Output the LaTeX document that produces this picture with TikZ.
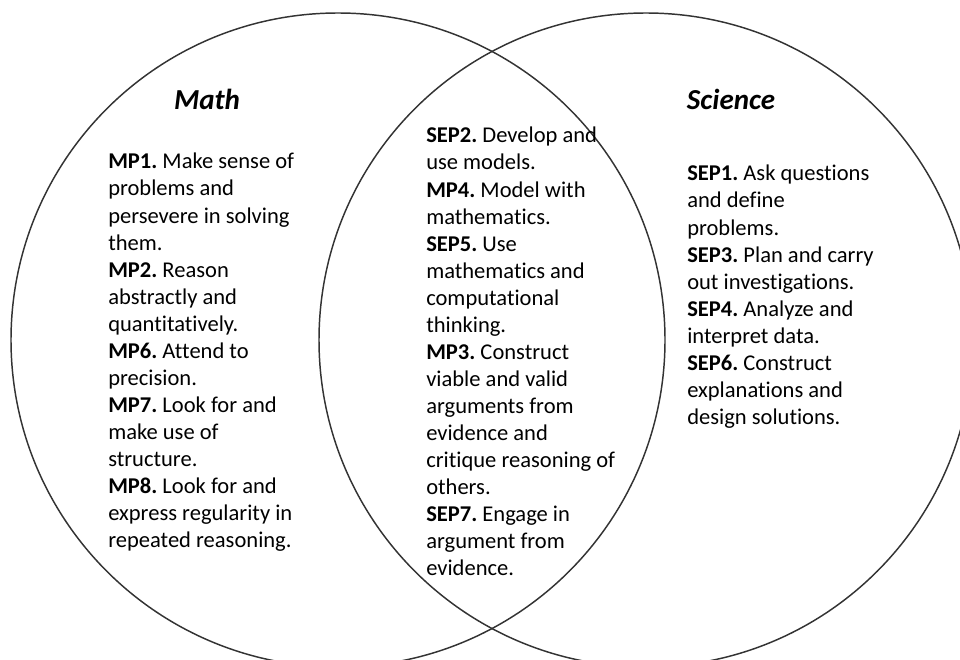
\documentclass[tikz,border=0pt]{standalone}
\usepackage{fontspec}
\setmainfont[Ligatures=NoCommon]{Carlito}
\usetikzlibrary{positioning}
\frenchspacing

\begin{document}
\begin{tikzpicture}[x=0.75pt, y=-0.75pt,
    setcircle/.style={circle, draw=black!80, line width=1.1pt, minimum size=490.5pt, inner sep=0pt},
    settitle/.style={font=\fontsize{21.75pt}{26pt}\selectfont\bfseries\itshape},
    itemlist/.style={anchor=north west, inner sep=0pt, align=left, font=\fontsize{16.9pt}{20.3pt}\selectfont}
]
\useasboundingbox (0,0) rectangle (960,660);
\clip (0,0) rectangle (960,660);

% the two sets
\node[setcircle] (mathset) at (338,340) {};
\node[setcircle] (sciset) at (646,340) {};

% titles
\node[settitle] (mathtitle) at (207,99) {Math};
\node[settitle] (scititle) at (731,99) {Science};

% practices
\node[itemlist] (mathlist) at (108,153) {\textbf{MP1.} Make sense of\\problems and\\persevere in solving\\them.\\\textbf{MP2.} Reason\\abstractly and\\quantitatively.\\\textbf{MP6.} Attend to\\precision.\\\textbf{MP7.} Look for and\\make use of\\structure.\\\textbf{MP8.} Look for and\\express regularity in\\repeated reasoning.};
\node[itemlist] (bothlist) at (426,127) {\textbf{SEP2.} Develop and\\use models.\\\textbf{MP4.} Model with\\mathematics.\\\textbf{SEP5.} Use\\mathematics and\\computational\\thinking.\\\textbf{MP3.} Construct\\viable and valid\\arguments from\\evidence and\\critique reasoning of\\others.\\\textbf{SEP7.} Engage in\\argument from\\evidence.};
\node[itemlist] (scilist) at (687,165) {\textbf{SEP1.} Ask questions\\and define\\problems.\\\textbf{SEP3.} Plan and carry\\out investigations.\\\textbf{SEP4.} Analyze and\\interpret data.\\\textbf{SEP6.} Construct\\explanations and\\design solutions.};

\end{tikzpicture}
\end{document}
